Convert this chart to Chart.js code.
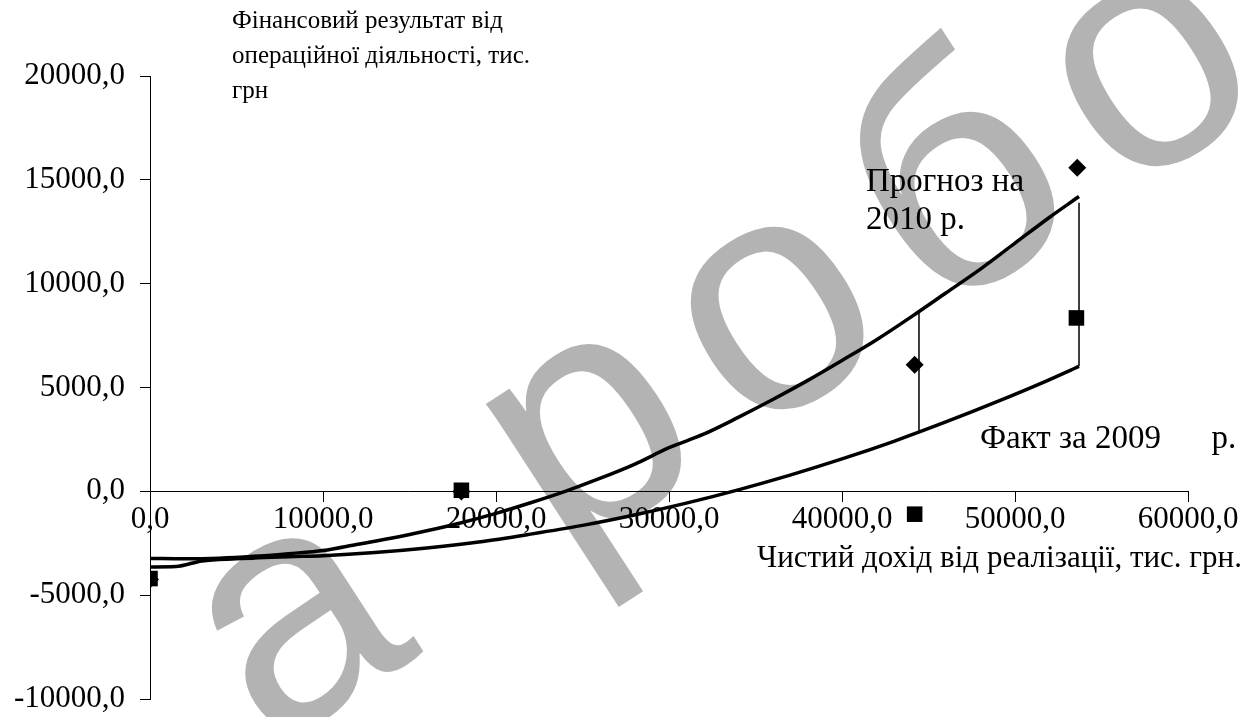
<!DOCTYPE html>
<html>
<head>
<meta charset="utf-8">
<script src="https://cdn.jsdelivr.net/npm/chart.js@4/dist/chart.umd.min.js"></script>
<style>
html,body{margin:0;padding:0;background:#fff;}
#wrap{position:relative;width:1255px;height:717px;overflow:hidden;font-family:"Liberation Serif","Times New Roman",serif;}
#wm{position:absolute;left:118px;top:518px;font-family:"Liberation Sans",Arial,sans-serif;font-size:330px;letter-spacing:37px;line-height:1;color:#b3b3b3;transform:rotate(-33deg);transform-origin:0 0;white-space:nowrap;}
#c{position:absolute;left:0;top:0;}
.t{position:absolute;color:#000;white-space:pre;}
</style>
</head>
<body>
<div id="wrap">
  <div id="wm">а робо</div>
  <canvas id="c" width="1255" height="717"></canvas>
  <div class="t" style="left:232px;top:2px;font-size:25px;line-height:35px;">Фінансовий результат від
операційної діяльності, тис.
грн</div>
  <div class="t" style="left:866px;top:161px;font-size:33px;line-height:38px;">Прогноз на
2010 р.</div>
  <div class="t" style="left:980px;top:418px;font-size:33px;line-height:38px;">Факт за 2009  <span style="padding-left:34px">р.</span></div>
  <div class="t" style="left:757px;top:539px;font-size:31px;line-height:36px;">Чистий дохід від реалізації, тис. грн.</div>
</div>
<script>
// ---- data ----
const xTickValues = [0, 10000, 20000, 30000, 40000, 50000, 60000];
const xTickLabels = ['0,0', '10000,0', '20000,0', '30000,0', '40000,0', '50000,0', '60000,0'];
const yTickValues = [-10000, -5000, 0, 5000, 10000, 15000, 20000];
const yTickLabels = ['-10000,0', '-5000,0', '0,0', '5000,0', '10000,0', '15000,0', '20000,0'];

// actual 2009 (squares)
const factRevenue = [0, 18000, 44200, 53550];
const factResult = [-4200, 50, -1100, 8350];
// forecast 2010 (diamonds)
const forecastRevenue = [0, 18000, 44200, 53600];
const forecastResult = [-4250, -10, 6100, 15580];

// forecast curve (upper)
const upperX = [0, 2000, 4000, 6000, 8000, 10000, 12000, 14000, 16000, 18000, 20000, 22000, 24000, 26000, 28000, 30000, 32000, 34000, 36000, 38000, 40000, 42000, 44000, 46000, 48000, 50000, 52000, 53700];
const upperY = [-3230, -3250, -3220, -3130, -3000, -2850, -2550, -2250, -1900, -1510, -1060, -550, 0, 620, 1300, 2100, 2750, 3560, 4420, 5330, 6300, 7300, 8400, 9550, 10700, 11950, 13200, 14200];
// actual curve (lower)
const lowerX = [0, 1500, 3000, 5000, 8000, 10000, 13000, 16000, 19000, 22000, 25000, 28000, 31000, 34000, 37000, 40000, 43000, 46000, 49000, 51500, 53700];
const lowerY = [-3640, -3620, -3350, -3250, -3150, -3100, -2950, -2730, -2440, -2060, -1640, -1140, -570, 70, 780, 1560, 2410, 3340, 4330, 5200, 6020];

// vertical difference lines
const dropX = [44450, 53700];
const dropTop = [8650, 13900];
const dropBottom = [2880, 6020];

// ---- build ----
const pts = (xs, ys) => xs.map((x, i) => ({x: x, y: ys[i]}));
const serif = '"Liberation Serif", "Times New Roman", serif';

const datasets = [
  {label: 'Факт', data: pts(factRevenue, factResult), pointStyle: 'rect', pointRadius: 11, pointHoverRadius: 11,
   backgroundColor: '#000', borderColor: '#000', borderWidth: 0, showLine: false, order: 0},
  {label: 'Прогноз', data: pts(forecastRevenue, forecastResult), pointStyle: 'rectRot', pointRadius: 9, pointHoverRadius: 9,
   backgroundColor: '#000', borderColor: '#000', borderWidth: 0, showLine: false, order: 1},
  {label: 'upper', data: pts(upperX, upperY), showLine: true, borderColor: '#000', borderWidth: 3.5,
   pointRadius: 0, tension: 0.4, cubicInterpolationMode: 'monotone', order: 2},
  {label: 'lower', data: pts(lowerX, lowerY), showLine: true, borderColor: '#000', borderWidth: 3.5,
   pointRadius: 0, tension: 0.4, cubicInterpolationMode: 'monotone', order: 3}
];
dropX.forEach((x, i) => {
  datasets.push({label: 'drop' + i, data: [{x: x, y: dropTop[i]}, {x: x, y: dropBottom[i]}], showLine: true,
    borderColor: '#000', borderWidth: 1.5, pointRadius: 0, order: 4});
});

new Chart(document.getElementById('c'), {
  type: 'scatter',
  data: {datasets: datasets},
  options: {
    responsive: false,
    animation: false,
    devicePixelRatio: 1,
    layout: {padding: {top: 76, bottom: 18, left: 0, right: 67}},
    plugins: {legend: {display: false}, tooltip: {enabled: false}, title: {display: false}},
    scales: {
      x: {
        type: 'linear', min: 0, max: 60000,
        position: {y: 0},
        afterBuildTicks: (s) => { s.ticks = xTickValues.map(v => ({value: v})); },
        afterFit: (s) => { s.paddingLeft = 0; s.paddingRight = 0; s.paddingTop = 0; s.paddingBottom = 0; },
        ticks: {
          color: '#000', font: {family: serif, size: 31}, padding: 0, maxRotation: 0, autoSkip: false,
          callback: (v) => { const i = xTickValues.indexOf(v); return i >= 0 ? xTickLabels[i] : ''; }
        },
        grid: {display: true, drawOnChartArea: false, drawTicks: true, tickLength: 10, color: '#000', lineWidth: 1},
        border: {display: true, color: '#000', width: 1}
      },
      y: {
        type: 'linear', min: -10000, max: 20000,
        position: 'left',
        afterBuildTicks: (s) => { s.ticks = yTickValues.map(v => ({value: v})); },
        afterFit: (s) => { s.width = 150; s.paddingTop = 0; s.paddingBottom = 0; },
        ticks: {
          color: '#000', font: {family: serif, size: 31}, padding: 15, autoSkip: false,
          callback: (v) => { const i = yTickValues.indexOf(v); return i >= 0 ? yTickLabels[i] : ''; }
        },
        grid: {display: true, drawOnChartArea: false, drawTicks: true, tickLength: 10, color: '#000', lineWidth: 1},
        border: {display: true, color: '#000', width: 1}
      }
    }
  }
});
</script>
</body>
</html>
